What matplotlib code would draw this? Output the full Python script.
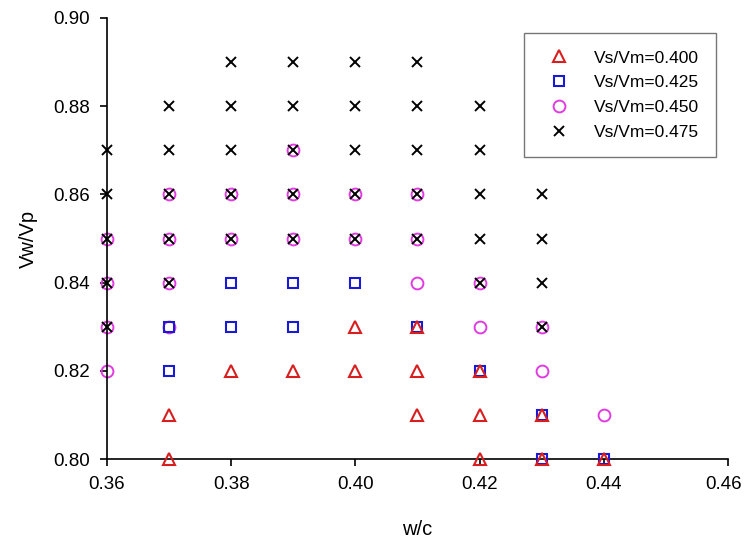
import matplotlib
matplotlib.use("Agg")
import matplotlib.pyplot as plt
import matplotlib.transforms as mtransforms

plt.rcParams['font.family'] = ['Liberation Sans', 'DejaVu Sans']

# Vs/Vm = 0.400
wc_400 = [0.37, 0.37, 0.38, 0.39, 0.40, 0.40, 0.41, 0.41, 0.41, 0.42, 0.42, 0.42, 0.43, 0.43, 0.44]
vw_400 = [0.81, 0.80, 0.82, 0.82, 0.83, 0.82, 0.83, 0.82, 0.81, 0.82, 0.81, 0.80, 0.81, 0.80, 0.80]

# Vs/Vm = 0.425
wc_425 = [0.37, 0.37, 0.38, 0.38, 0.39, 0.39, 0.40, 0.41, 0.42, 0.43, 0.43, 0.44]
vw_425 = [0.83, 0.82, 0.84, 0.83, 0.84, 0.83, 0.84, 0.83, 0.82, 0.81, 0.80, 0.80]

# Vs/Vm = 0.450
wc_450 = [0.36, 0.36, 0.36, 0.36, 0.37, 0.37, 0.37, 0.37, 0.38, 0.38, 0.39, 0.39, 0.39,
          0.40, 0.40, 0.41, 0.41, 0.41, 0.42, 0.42, 0.43, 0.43, 0.44]
vw_450 = [0.85, 0.84, 0.83, 0.82, 0.86, 0.85, 0.84, 0.83, 0.86, 0.85, 0.87, 0.86, 0.85,
          0.86, 0.85, 0.86, 0.85, 0.84, 0.84, 0.83, 0.83, 0.82, 0.81]

# Vs/Vm = 0.475
wc_475 = [0.36] * 5 + [0.37] * 5 + [0.38] * 5 + [0.39] * 5 + [0.40] * 5 + [0.41] * 5 + [0.42] * 5 + [0.43] * 4
vw_475 = [0.87, 0.86, 0.85, 0.84, 0.83,
          0.88, 0.87, 0.86, 0.85, 0.84,
          0.89, 0.88, 0.87, 0.86, 0.85,
          0.89, 0.88, 0.87, 0.86, 0.85,
          0.89, 0.88, 0.87, 0.86, 0.85,
          0.89, 0.88, 0.87, 0.86, 0.85,
          0.88, 0.87, 0.86, 0.85, 0.84,
          0.86, 0.85, 0.84, 0.83]

x_ticks = [0.36, 0.38, 0.40, 0.42, 0.44, 0.46]
y_ticks = [0.80, 0.82, 0.84, 0.86, 0.88, 0.90]

fig = plt.figure(figsize=(7.44, 5.43), dpi=100)
ax = fig.add_axes([107 / 744, 1 - 459 / 543, (728 - 107) / 744, (459 - 18) / 543])

red, blue, magenta = '#d81e1e', '#1a1ad6', '#e03ce0'

h400, = ax.plot(wc_400, vw_400, linestyle='none', marker='^', markersize=9,
                markerfacecolor='none', markeredgecolor=red, markeredgewidth=1.5,
                label='Vs/Vm=0.400', zorder=4, clip_on=False)
h425, = ax.plot(wc_425, vw_425, linestyle='none', marker='s', markersize=7.5,
                markerfacecolor='none', markeredgecolor=blue, markeredgewidth=1.5,
                label='Vs/Vm=0.425', zorder=3, clip_on=False)
h450, = ax.plot(wc_450, vw_450, linestyle='none', marker='o', markersize=8.5,
                markerfacecolor='none', markeredgecolor=magenta, markeredgewidth=1.4,
                label='Vs/Vm=0.450', zorder=2, clip_on=False)
h475, = ax.plot(wc_475, vw_475, linestyle='none', marker='x', markersize=7.5,
                color='black', markeredgewidth=1.4,
                label='Vs/Vm=0.475', zorder=5, clip_on=False)

ax.set_xlim(0.36, 0.46)
ax.set_ylim(0.80, 0.90)
ax.set_xticks(x_ticks)
ax.set_yticks(y_ticks)
ax.set_xticklabels([f'{v:.2f}' for v in x_ticks])
ax.set_yticklabels([f'{v:.2f}' for v in y_ticks])

for side in ('top', 'right'):
    ax.spines[side].set_visible(False)
for side in ('left', 'bottom'):
    ax.spines[side].set_linewidth(1.2)
    ax.spines[side].set_color('black')

ax.tick_params(axis='both', direction='out', length=5, width=1.2, labelsize=13.5, pad=7,
               colors='black')

# keep the rightmost x tick label inside the figure edge
last = ax.get_xticklabels()[-1]
last.set_transform(last.get_transform() +
                   mtransforms.ScaledTranslation(-4 / 100, 0, fig.dpi_scale_trans))

ax.set_xlabel('w/c', fontsize=14.5, labelpad=20)
ax.set_ylabel('Vw/Vp', fontsize=14.5, labelpad=11)

leg = ax.legend(handles=[h400, h425, h450, h475], loc='upper right',
                bbox_to_anchor=(716 / 744, 1 - 33 / 543), bbox_transform=fig.transFigure,
                fontsize=12.5, frameon=True, fancybox=False, edgecolor='#555555',
                borderpad=1.0, labelspacing=0.55, handletextpad=1.0, borderaxespad=0)
leg.get_frame().set_linewidth(1.0)

fig.savefig('out.png', dpi=100)
